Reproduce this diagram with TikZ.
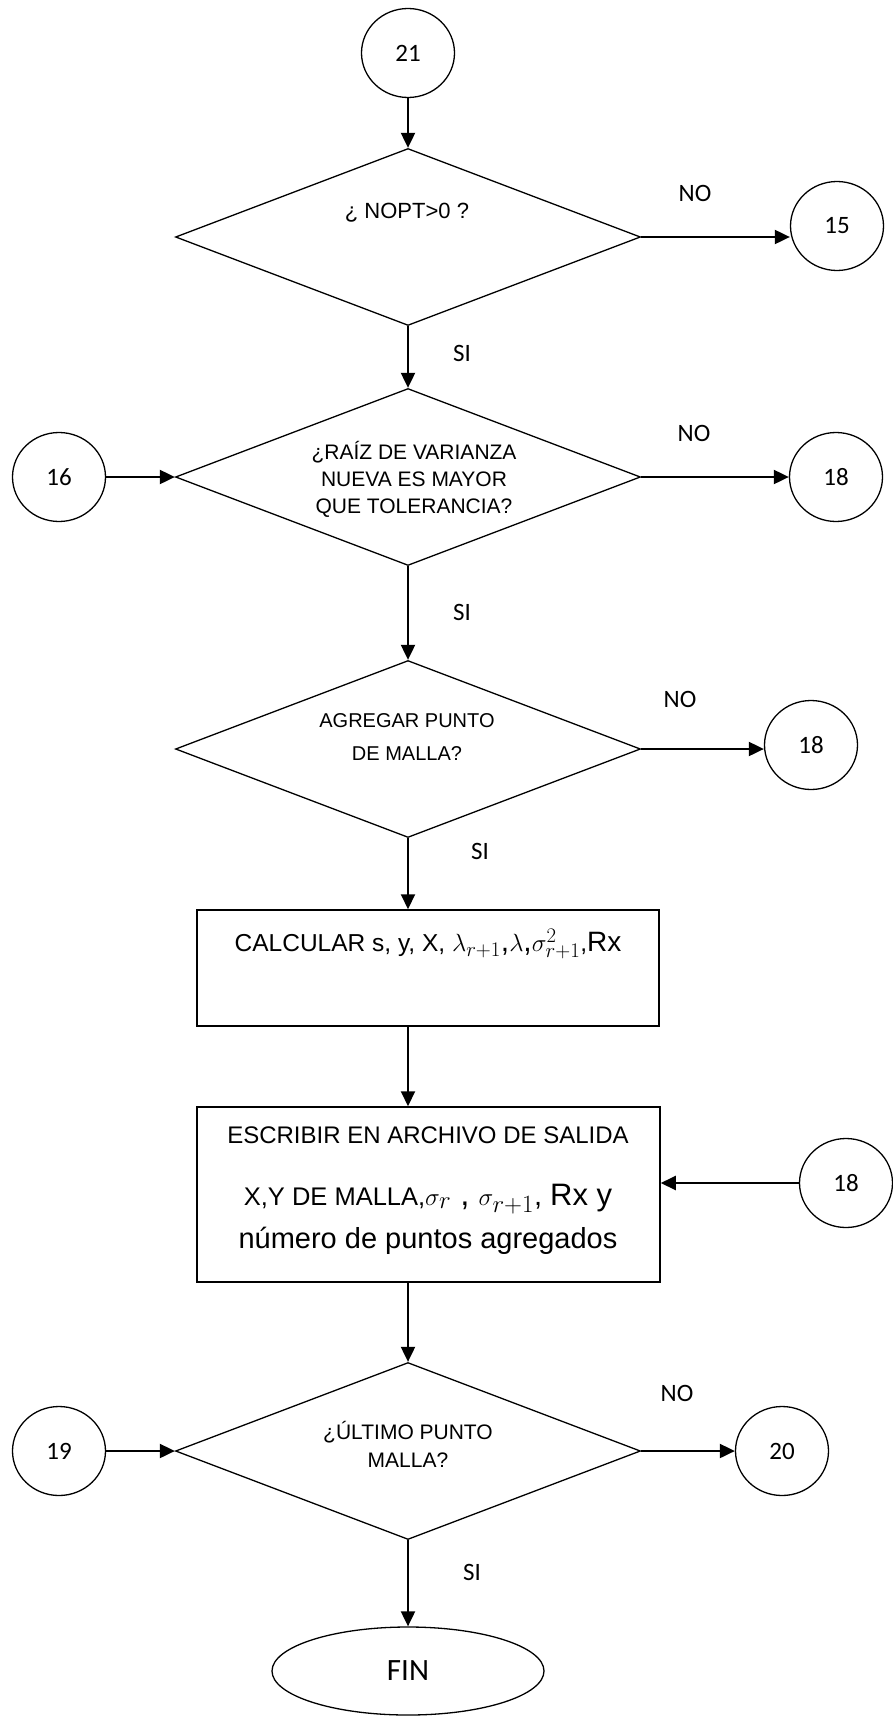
\documentclass[tikz,border=0pt]{standalone}
\usepackage{fontspec}
\setmainfont{Liberation Sans}
\newfontfamily\calib{Carlito}
\usetikzlibrary{shapes.geometric,arrows.meta,calc}

\begin{document}
\begin{tikzpicture}[x=1pt,y=-1pt,
  conn/.style={ellipse,draw,line width=1.3pt,minimum width=93pt,minimum height=89pt,
    inner sep=0pt,font=\calib\fontsize{25}{30}\selectfont},
  decision/.style={diamond,draw,line width=1.3pt,minimum width=465pt,minimum height=177pt,inner sep=0pt},
  process/.style={draw,line width=1.5pt,inner sep=0pt},
  qtext/.style={align=center,inner sep=0pt,font=\fontsize{21}{27}\selectfont},
  btext/.style={align=center,inner sep=0pt},
  lbl/.style={inner sep=0pt,font=\calib\fontsize{25}{30}\selectfont},
  flow/.style={-{Triangle[length=15pt,width=14pt]},line width=2pt},
]
\useasboundingbox (0,0) rectangle (892,1720);
\fill[white] (0,0) rectangle (892,1720);

% first decision
\node[conn] (c21) at (408,53) {21};
\node[decision] (d1) at (408,237) {};
\node[qtext,font=\fontsize{22}{27}\selectfont] (t1) at (407,213) {¿ NOPT>0 ?};
\node[conn] (c15) at (837,226) {15};
\node[lbl] (no1) at (695,193) {NO};
\node[lbl] (si1) at (462,353) {SI};
\draw[flow] (c21.south) -- (d1.north);
\draw[flow] (d1.east) -- (d1.east -| c15.west);

% second decision
\node[decision] (d2) at (408,477) {};
\node[qtext] (t2) at (414,479) {¿RAÍZ DE VARIANZA\\NUEVA ES MAYOR\\QUE TOLERANCIA?};
\node[conn] (c16) at (59,477) {16};
\node[conn] (c18a) at (836,477) {18};
\node[lbl] (no2) at (694,433) {NO};
\node[lbl] (si2) at (462,612) {SI};
\draw[flow] (d1.south) -- (d2.north);
\draw[flow] (c16.east) -- (d2.west);
\draw[flow] (d2.east) -- (c18a.west);

% third decision
\node[decision] (d3) at (408,749) {};
\node[qtext,font=\fontsize{20}{33}\selectfont] (t3) at (407,737) {AGREGAR PUNTO\\DE MALLA?};
\node[conn] (c18b) at (811,745) {18};
\node[lbl] (no3) at (680,699) {NO};
\node[lbl] (si3) at (480,851) {SI};
\draw[flow] (d2.south) -- (d3.north);
\draw[flow] (d3.east) -- (d3.east -| c18b.west);

% computation box
\node[process,minimum width=462pt,minimum height=116pt] (r1) at (428,968) {};
\node[btext,font=\fontsize{24.5}{28}\selectfont] (t4) at (428,944)
  {CALCULAR s, y, X, {\fontsize{30}{30}\selectfont$\lambda_{r+1}$,$\lambda$,$\sigma^2_{r+1}$},{\fontsize{28}{30}\selectfont Rx}};
\draw[flow] (d3.south) -- (d3.south |- r1.north);

% output box
\node[process,minimum width=463pt,minimum height=175pt] (r2) at (428.5,1194.5) {};
\node[btext,font=\fontsize{24}{28}\selectfont] (t5) at (428,1135) {ESCRIBIR EN ARCHIVO DE SALIDA};
\node[btext,font=\fontsize{29}{43}\selectfont] (t6) at (428,1219)
  {{\fontsize{25.5}{43}\selectfont X,Y DE MALLA,}{\fontsize{33}{43}\selectfont$\sigma_r$ , $\sigma_{r+1}$}, {\fontsize{31}{43}\selectfont Rx y}\\número de puntos agregados};
\node[conn] (c18c) at (846,1183) {18};
\draw[flow] (d3.south |- r1.south) -- (d3.south |- r2.north);
\draw[flow] (c18c.west) -- (c18c.west -| r2.east);

% last decision
\node[decision] (d4) at (408,1451) {};
\node[qtext,font=\fontsize{21}{28}\selectfont] (t7) at (408,1444) {¿ÚLTIMO PUNTO\\MALLA?};
\node[conn] (c19) at (59,1451) {19};
\node[conn] (c20) at (782,1451) {20};
\node[lbl] (no4) at (677,1393) {NO};
\node[lbl] (si4) at (472,1572) {SI};
\draw[flow] (d3.south |- r2.south) -- (d4.north);
\draw[flow] (c19.east) -- (d4.west);
\draw[flow] (d4.east) -- (c20.west);

% end
\node[ellipse,draw,line width=1.3pt,minimum width=272pt,minimum height=88pt,inner sep=0pt,
  font=\calib\fontsize{31}{36}\selectfont] (fin) at (408,1671) {FIN};
\draw[flow] (d4.south) -- (fin.north);
\end{tikzpicture}
\end{document}
